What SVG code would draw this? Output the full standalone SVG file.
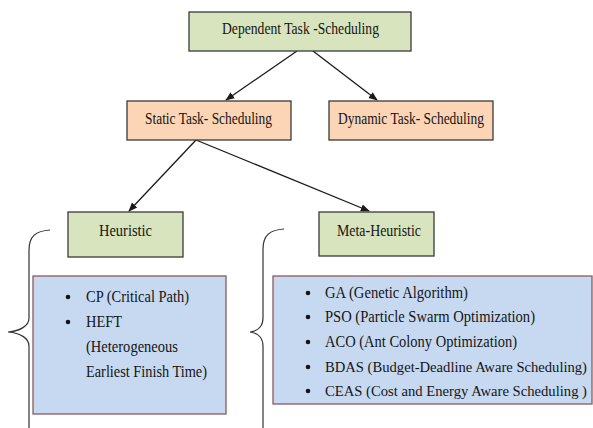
<svg xmlns="http://www.w3.org/2000/svg" width="593" height="428" viewBox="0 0 593 428">
<defs>
<style>
text{font-family:"Liberation Serif","Times New Roman",Tinos,serif;font-size:16px;fill:#151515}
.sm{font-size:14.5px}
.g{fill:#d7e4bd;stroke:#3a3a3a;stroke-width:1.3}
.o{fill:#fbd5b5;stroke:#3a3a3a;stroke-width:1.3}
.b{fill:#c6d9f1;stroke:#8c5a5a;stroke-width:1.3}
.c{fill:none;stroke:#1a1a1a;stroke-width:1.3}
.br{fill:none;stroke:#333;stroke-width:1.2}
.dot{fill:#151515}
</style>
<marker id="ah" viewBox="0 0 10 10" refX="9" refY="5" markerWidth="7" markerHeight="7" orient="auto-start-reverse"><path d="M0,1 L10,5 L0,9 z" fill="#1a1a1a"/></marker>
</defs>
<rect width="593" height="428" fill="#fff"/>
<g id="connectors">
<line class="c" x1="297" y1="51" x2="226" y2="100" marker-end="url(#ah)"/>
<line class="c" x1="313" y1="51" x2="377" y2="100" marker-end="url(#ah)"/>
<line class="c" x1="196" y1="140" x2="129" y2="211" marker-end="url(#ah)"/>
<line class="c" x1="196" y1="140" x2="369" y2="211" marker-end="url(#ah)"/>
</g>
<g id="dependent"><rect class="g" x="189" y="12" width="222" height="39"/><text x="222" y="34" textLength="157" lengthAdjust="spacingAndGlyphs">Dependent Task -Scheduling</text></g>
<g id="static"><rect class="o" x="127" y="101" width="164" height="39"/><text x="145" y="124" textLength="127" lengthAdjust="spacingAndGlyphs">Static Task- Scheduling</text></g>
<g id="dynamic"><rect class="o" x="329" y="101" width="164" height="39"/><text x="338" y="124" textLength="146" lengthAdjust="spacingAndGlyphs">Dynamic Task- Scheduling</text></g>
<g id="heuristic"><rect class="g" x="68" y="212" width="115" height="45"/><text x="99" y="236" textLength="53" lengthAdjust="spacingAndGlyphs">Heuristic</text></g>
<g id="metaheuristic"><rect class="g" x="319" y="212" width="115" height="44"/><text x="337" y="236" textLength="84" lengthAdjust="spacingAndGlyphs">Meta-Heuristic</text></g>
<g id="brace-left"><path class="br" d="M50,230 C36,231 29,236 29,250 L29,318 C29,326 20,331 8,332 C20,333 29,338 29,346 L29,430"/></g>
<g id="brace-right"><path class="br" d="M284,229 C270,230 263,235 263,249 L263,318 C263,326 258,331 250,332 C258,333 263,338 263,346 L263,430"/></g>
<g id="heuristic-list"><rect class="b" x="33" y="276" width="193" height="138"/>
<circle class="dot" cx="68" cy="297" r="2.3"/><circle class="dot" cx="68" cy="322" r="2.3"/>
<text x="86" y="302" textLength="103" lengthAdjust="spacingAndGlyphs">CP (Critical Path)</text>
<text x="86" y="327" textLength="36" lengthAdjust="spacingAndGlyphs">HEFT</text>
<text x="86" y="352" textLength="92" lengthAdjust="spacingAndGlyphs">(Heterogeneous</text>
<text x="86" y="377" textLength="121" lengthAdjust="spacingAndGlyphs">Earliest Finish Time)</text>
</g>
<g id="meta-list"><rect class="b" x="273" y="276" width="319" height="128"/>
<circle class="dot" cx="308" cy="293" r="2.3"/><circle class="dot" cx="308" cy="317" r="2.3"/><circle class="dot" cx="308" cy="342" r="2.3"/><circle class="dot" cx="308" cy="367" r="2.3"/><circle class="dot" cx="308" cy="391" r="2.3"/>
<text x="325" y="298" textLength="143" lengthAdjust="spacingAndGlyphs">GA (Genetic Algorithm)</text>
<text x="325" y="322" textLength="210" lengthAdjust="spacingAndGlyphs">PSO (Particle Swarm Optimization)</text>
<text x="325" y="347" textLength="192" lengthAdjust="spacingAndGlyphs">ACO (Ant Colony Optimization)</text>
<text class="sm" x="325" y="372" textLength="262" lengthAdjust="spacingAndGlyphs">BDAS (Budget-Deadline Aware Scheduling)</text>
<text class="sm" x="325" y="396" textLength="262" lengthAdjust="spacingAndGlyphs">CEAS (Cost and Energy Aware Scheduling )</text>
</g>
</svg>
